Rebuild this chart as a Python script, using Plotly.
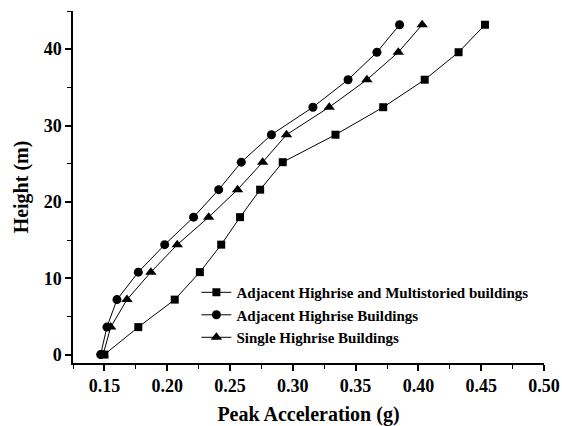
import plotly.graph_objects as go

heights = [0, 3.6, 7.2, 10.8, 14.4, 18, 21.6, 25.2, 28.8, 32.4, 36, 39.6, 43.2]
adj_multi = [0.150, 0.177, 0.206, 0.226, 0.243, 0.258, 0.274, 0.292, 0.334, 0.372, 0.405, 0.432, 0.453]
adj_high = [0.147, 0.152, 0.160, 0.177, 0.198, 0.221, 0.241, 0.259, 0.283, 0.316, 0.344, 0.367, 0.385]
single_high = [0.149, 0.155, 0.168, 0.187, 0.208, 0.233, 0.256, 0.276, 0.295, 0.329, 0.359, 0.384, 0.403]

series_names = ["Adjacent Highrise and Multistoried buildings",
                "Adjacent Highrise Buildings",
                "Single Highrise Buildings"]
x_ticks = [0.15, 0.20, 0.25, 0.30, 0.35, 0.40, 0.45, 0.50]
y_ticks = [0, 10, 20, 30, 40]

font_family = "Liberation Serif"

fig = go.Figure()
for name, xs, sym, size in [
    (series_names[0], adj_multi, "square", 8),
    (series_names[1], adj_high, "circle", 9),
    (series_names[2], single_high, "triangle-up", 10),
]:
    fig.add_trace(go.Scatter(
        x=xs, y=heights, name="<b>" + name + "</b>", mode="lines+markers",
        line=dict(color="black", width=1),
        marker=dict(symbol=sym, size=size, color="black"),
    ))

fig.update_layout(
    width=562, height=426,
    margin=dict(l=73, r=18, t=11, b=63, autoexpand=False),
    paper_bgcolor="white", plot_bgcolor="white",
    font=dict(family=font_family, color="black", size=17),
    legend=dict(
        x=0.262, y=0.247, xanchor="left", yanchor="top",
        bgcolor="rgba(0,0,0,0)",
        font=dict(family=font_family, size=15, color="black"),
        tracegroupgap=0, itemwidth=30,
    ),
    showlegend=True,
)

fig.update_xaxes(
    range=[0.125, 0.5], showgrid=False, zeroline=False, automargin=False,
    showline=True, linecolor="black", linewidth=1.5,
    ticks="outside", ticklen=6, tickwidth=1.5, tickcolor="black",
    tickvals=x_ticks, ticktext=[f"<b>{v:.2f}</b>" for v in x_ticks],
    tickfont=dict(family=font_family, size=18, color="black"),
    minor=dict(ticks="outside", ticklen=4, tickwidth=1.2, tickcolor="black", dtick=0.025, tick0=0.125),
    title=dict(text="<b>Peak Acceleration (g)</b>", font=dict(family=font_family, size=20, color="black"), standoff=12),
)
fig.update_yaxes(
    range=[-1.1, 45], showgrid=False, zeroline=False, automargin=False,
    showline=True, linecolor="black", linewidth=1.5,
    ticks="outside", ticklen=6, tickwidth=1.5, tickcolor="black",
    tickvals=y_ticks, ticktext=[f"<b>{v}</b>" for v in y_ticks],
    tickfont=dict(family=font_family, size=18, color="black"),
    minor=dict(ticks="outside", ticklen=4, tickwidth=1.2, tickcolor="black", dtick=5, tick0=5),
    title=dict(text="<b>Height (m)</b>", font=dict(family=font_family, size=20, color="black"), standoff=10),
)

fig.write_html("out.html", config={"displayModeBar": False})

# remove the browser's default body margin so the figure sits at the page origin
with open("out.html", "r", encoding="utf-8") as f:
    html = f.read()
html = html.replace("<body>", '<body style="margin:0;padding:0;overflow:hidden">', 1)
with open("out.html", "w", encoding="utf-8") as f:
    f.write(html)
